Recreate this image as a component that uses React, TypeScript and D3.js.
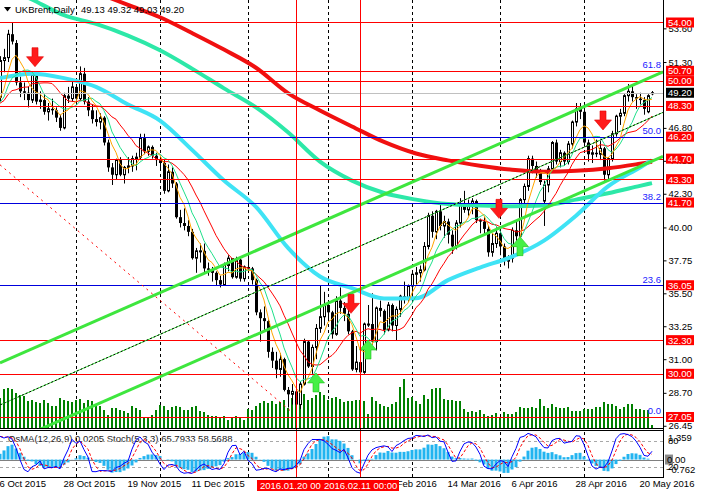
import React, { useEffect, useRef } from 'react';
import * as d3 from 'd3';

// UKBrent daily bars, 6 Oct 2015 .. 25 May 2016 (bar index 0..163)
const opens = [
  48.9, 51.4, 51.6, 53.2, 52.6, 49.9, 49.3, 49.2, 48.7, 50.4,
  48.6, 48.7, 47.9, 48.1, 48.0, 47.5, 46.8, 49.0, 48.8, 49.6,
  48.8, 50.5, 48.6, 48.0, 47.4, 47.2, 47.5, 45.8, 44.1, 43.6,
  44.6, 43.6, 44.1, 44.2, 44.7, 44.8, 46.1, 45.2, 45.5, 44.9,
  44.6, 44.4, 42.5, 43.8, 43.0, 40.7, 40.3, 40.1, 39.7, 37.9,
  38.4, 38.4, 37.2, 37.1, 36.9, 36.4, 36.1, 37.4, 37.9, 36.6,
  37.8, 36.5, 37.3, 37.2, 36.4, 34.2, 33.8, 33.6, 31.5, 30.9,
  30.3, 31.0, 28.9, 28.6, 28.8, 27.9, 29.3, 32.2, 30.5, 31.8,
  33.1, 33.9, 34.7, 34.2, 32.7, 35.0, 34.5, 34.1, 32.9, 30.3,
  30.8, 30.1, 33.4, 33.4, 32.2, 34.5, 34.3, 33.0, 34.7, 33.3,
  34.4, 35.3, 35.1, 36.0, 36.8, 36.9, 37.1, 38.7, 40.8, 39.7,
  41.1, 40.1, 40.4, 39.5, 38.7, 40.3, 41.5, 41.2, 41.5, 41.8,
  40.5, 40.4, 39.9, 38.3, 38.9, 39.6, 38.7, 37.7, 37.9, 39.8,
  39.4, 41.9, 42.8, 44.7, 44.2, 43.8, 41.8, 42.9, 44.0, 45.8,
  44.5, 45.1, 44.5, 45.7, 47.2, 48.1, 47.9, 45.8, 45.0, 45.1,
  45.0, 45.4, 43.6, 44.7, 46.4, 47.6, 47.8, 49.0, 49.3, 48.9,
  48.8, 48.7, 47.9, 49.13,
];
const highs = [
  51.7, 52.2, 53.5, 54.0, 52.8, 50.3, 49.9, 49.6, 50.6, 50.5,
  49.3, 49.1, 48.5, 48.8, 48.2, 47.7, 49.2, 49.6, 50.1, 49.8,
  51.0, 50.9, 48.9, 48.4, 48.0, 47.8, 47.6, 46.0, 44.4, 44.7,
  44.8, 44.2, 44.8, 44.9, 45.1, 46.4, 46.4, 45.6, 45.6, 45.1,
  44.9, 44.6, 44.3, 44.1, 43.1, 41.2, 41.3, 40.5, 39.9, 38.6,
  38.9, 38.9, 37.6, 37.3, 37.0, 36.7, 37.6, 38.1, 37.9, 38.0,
  37.9, 37.4, 39.3, 37.3, 36.5, 34.4, 34.6, 33.7, 31.8, 31.5,
  31.4, 31.1, 29.1, 29.3, 29.0, 29.5, 32.4, 32.3, 32.0, 33.4,
  36.0, 35.6, 35.0, 34.3, 35.3, 35.9, 34.9, 35.0, 33.0, 31.9,
  31.2, 33.5, 34.7, 35.5, 34.6, 35.0, 34.4, 34.9, 34.8, 34.6,
  35.4, 36.3, 36.1, 37.0, 37.3, 37.4, 39.0, 41.0, 41.1, 41.2,
  41.6, 40.8, 40.6, 39.8, 40.5, 42.0, 42.5, 41.9, 42.0, 41.9,
  40.6, 40.7, 40.1, 39.6, 40.0, 39.8, 38.9, 38.1, 40.0, 40.4,
  42.0, 43.0, 44.9, 44.9, 44.5, 44.0, 43.2, 44.2, 45.9, 46.0,
  45.3, 45.2, 45.9, 47.3, 48.5, 48.5, 48.1, 46.0, 45.6, 46.0,
  45.9, 45.5, 44.8, 46.6, 47.7, 48.1, 49.1, 49.8, 49.7, 49.1,
  49.2, 48.9, 49.1, 49.32,
];
const lows = [
  48.6, 50.6, 51.3, 52.5, 49.7, 48.9, 48.7, 48.2, 48.5, 48.4,
  48.1, 47.7, 47.3, 47.7, 47.2, 46.6, 46.7, 48.5, 48.6, 48.5,
  48.7, 48.4, 47.6, 47.1, 46.9, 46.7, 45.6, 43.8, 42.9, 43.3,
  43.5, 43.0, 43.7, 43.8, 43.9, 44.6, 45.0, 44.9, 44.7, 44.2,
  43.9, 42.3, 42.4, 42.7, 40.6, 40.0, 39.8, 39.4, 37.8, 36.9,
  37.6, 36.9, 36.7, 36.3, 36.0, 35.9, 36.0, 37.0, 36.5, 36.5,
  36.3, 36.3, 37.0, 36.1, 34.0, 32.2, 33.0, 31.1, 30.4, 29.7,
  29.8, 28.8, 27.7, 27.9, 27.05, 27.6, 29.2, 30.4, 30.0, 31.0,
  32.8, 33.3, 33.6, 32.4, 32.6, 34.1, 33.6, 32.7, 30.2, 30.1,
  30.0, 30.0, 33.2, 32.0, 31.6, 33.9, 32.7, 32.9, 32.9, 32.3,
  33.9, 34.8, 34.9, 35.1, 36.1, 36.3, 37.0, 38.5, 39.3, 39.2,
  39.8, 39.3, 38.9, 38.2, 38.5, 40.0, 41.0, 40.8, 40.9, 40.3,
  39.6, 39.5, 38.0, 38.0, 38.6, 38.1, 37.4, 37.2, 37.6, 39.1,
  39.2, 41.6, 42.5, 43.7, 43.4, 42.9, 40.1, 42.4, 43.8, 44.3,
  44.1, 44.2, 44.3, 45.4, 46.9, 47.4, 45.6, 44.5, 44.4, 44.8,
  44.6, 43.2, 43.3, 44.5, 46.2, 47.0, 47.6, 48.6, 48.6, 48.1,
  48.4, 47.7, 47.8, 49.03,
];
const closes = [
  51.4, 51.6, 53.2, 52.7, 49.9, 49.3, 49.2, 48.7, 50.4, 48.6,
  48.7, 47.9, 48.1, 48.0, 47.5, 46.8, 49.0, 48.8, 49.6, 48.8,
  50.5, 48.6, 48.0, 47.4, 47.2, 47.5, 45.8, 44.1, 43.6, 44.6,
  43.6, 44.1, 44.2, 44.7, 44.8, 46.1, 45.2, 45.5, 44.9, 44.6,
  44.4, 42.5, 43.8, 43.0, 40.7, 40.3, 40.1, 39.7, 37.9, 38.4,
  38.4, 37.2, 37.1, 36.9, 36.4, 36.1, 37.4, 37.9, 36.6, 37.8,
  36.5, 37.3, 37.2, 36.4, 34.2, 33.8, 33.6, 31.5, 30.9, 30.3,
  31.0, 28.9, 28.6, 28.8, 27.9, 29.3, 32.2, 30.5, 31.8, 33.1,
  33.9, 34.7, 34.2, 32.7, 35.0, 34.5, 34.1, 32.9, 30.3, 30.8,
  30.1, 33.4, 33.4, 32.2, 34.5, 34.3, 33.0, 34.7, 33.3, 34.4,
  35.3, 35.1, 36.0, 36.8, 36.9, 37.1, 38.7, 40.8, 39.7, 41.1,
  40.1, 40.4, 39.5, 38.7, 40.3, 41.5, 41.2, 41.5, 41.8, 40.5,
  40.4, 39.9, 38.3, 38.9, 39.6, 38.7, 37.7, 37.9, 39.8, 39.4,
  41.9, 42.8, 44.7, 44.2, 43.8, 43.1, 42.9, 44.0, 45.8, 44.5,
  45.1, 44.5, 45.7, 47.2, 48.1, 47.9, 45.8, 45.0, 45.1, 45.0,
  45.4, 43.6, 44.7, 46.4, 47.6, 47.8, 49.0, 49.3, 48.9, 48.8,
  48.7, 48.1, 49.0, 49.20,
];
// tick volume, thousands
const volumes = [
  30, 39, 40, 39, 35, 33, 32, 27, 28, 26,
  25, 28, 25, 22, 22, 30, 28, 27, 26, 28,
  29, 25, 28, 27, 24, 22, 18, 13, 20, 20,
  18, 17, 15, 22, 20, 18, 11, 10, 13, 18,
  23, 22, 18, 21, 22, 21, 18, 18, 21, 22,
  17, 16, 13, 12, 12, 11, 12, 8, 10, 12,
  11, 8, 19, 18, 22, 25, 27, 25, 27, 24,
  26, 28, 20, 30, 36, 38, 34, 28, 30, 33,
  36, 33, 28, 30, 31, 29, 26, 27, 27, 28,
  28, 27, 14, 31, 27, 24, 22, 21, 24, 26,
  41, 49, 30, 31, 27, 24, 33, 29, 39, 40,
  40, 29, 28, 28, 27, 27, 19, 16, 17, 16,
  18, 14, 12, 13, 15, 11, 16, 14, 14, 16,
  21, 20, 20, 21, 20, 29, 22, 20, 24, 21,
  20, 20, 21, 17, 17, 17, 19, 19, 19, 21,
  21, 26, 24, 24, 22, 19, 21, 24, 24, 19,
  19, 18, 18, 3,
];
// closes before the first visible bar, only to warm up the indicators
const priorCloses = [
  49.56, 50.5, 50.68, 49.61, 47.63, 49.52, 47.58, 48.89, 48.14, 46.37,
  47.75, 49.75, 49.08, 47.47, 48.92, 49.08, 47.75, 48.2, 48.6, 47.34,
  48.23, 48.37, 47.69, 48.13, 48.54,
];

// long moving averages at these bars
const maIdx = [0, 8, 16, 24, 32, 40, 48, 56, 64, 72, 80, 88, 96, 104, 112, 120, 128, 136, 144, 152, 160, 163];
const maCyan = [50.2, 50.5, 50.2, 49.6, 48.4, 47.3, 45.3, 43.2, 41.4, 38.6, 36.65, 35.85, 35.15, 35.16, 36.4, 37.26, 38.0, 39.1, 40.8, 42.8, 44.1, 44.6];
const maAqua = [56.6, 55.57, 54.5, 53.9, 53.1, 52.1, 50.85, 49.5, 48.2, 46.5, 44.5, 43.2, 42.35, 41.9, 41.6, 41.5, 41.45, 41.5, 41.9, 42.33, 42.84, 43.03];
const maRed = [58.5, 57.7, 56.88, 56.05, 55.2, 54.36, 53.28, 52.15, 50.91, 49.18, 47.99, 46.9, 45.84, 45.05, 44.58, 44.22, 43.94, 43.81, 43.87, 44.04, 44.35, 44.48];

const monthStarts = [19, 40, 62, 82, 103, 125, 146];
const markedBars = [74, 90];
const markedLabels = ['2016.01.20 00', '2016.02.11 00:00'];
const dateTicks = [0, 16, 32, 48, 96, 112, 128, 144, 160];
const dateLabels = ['6 Oct 2015', '28 Oct 2015', '19 Nov 2015', '11 Dec 2015',
  '19 Feb 2016', '14 Mar 2016', '6 Apr 2016', '28 Apr 2016', '20 May 2016'];
const priceTicks = [53.6, 51.3, 46.8, 44.55, 42.3, 40.0, 37.75, 35.5, 33.25, 31.0, 28.7, 26.45];
const levelPrices = [54.0, 50.7, 50.0, 48.3, 46.2, 44.7, 43.3, 41.7, 36.05, 32.3, 30.0, 27.05];
const redLines = [54.0, 50.7, 50.0, 48.3, 44.7, 43.3, 32.3, 30.0, 27.05];
const fibPrices = [50.7, 46.2, 41.7, 36.05, 27.05];
const fibLabels = ['61.8', '50.0', '38.2', '23.6', '0.0'];
const channelIdx = [0, 165.75];
const channelTop = [30.74, 50.62];
const channelMid = [27.87, 47.86];
const channelLow = [25.01, 44.85];
const diagIdx = [0, 73];
const diagPrice = [44.28, 27.38];
const downArrows: [number, number][] = [[9, 50.98], [88, 34.13], [125, 40.62], [151, 46.66]];
const upArrows: [number, number][] = [[79, 30.06], [92, 32.31], [130, 39.37]];
const lastPrice = 49.2;
const osmaRange = [-0.762, 1.359];
const stochLevels = [80, 20];

export default function App() {
  const svgRef = useRef<SVGSVGElement>(null);

  useEffect(() => {
    if (!svgRef.current) return;
    document.body.style.margin = '0';
    const svg = d3.select(svgRef.current);
    svg.selectAll('*').remove();

    const font = '"Liberation Sans", Arial, sans-serif';
    const right = 663;
    const mainBottom = 428;
    const oscTop = 431;
    const oscBottom = 477;

    const x = d3.scaleLinear().domain([0, 165.75]).range([0, right]);
    const y = d3.scaleLinear().domain([26.298, 55.537]).range([mainBottom, 0]);
    const yVol = d3.scaleLinear().domain([0, 100]).range([mainBottom, mainBottom - 100]);
    const yOsma = d3.scaleLinear().domain(osmaRange).range([475, 432]);
    const yStoch = d3.scaleLinear().domain([0, 100]).range([475.5, 432.2]);
    const px = (i: number) => Math.round(x(i)) + 0.5;
    const py = (p: number) => Math.round(y(p)) + 0.5;

    svg.append('rect').attr('width', 702).attr('height', 496).attr('fill', '#fff');

    const defs = svg.append('defs');
    defs.append('clipPath').attr('id', 'main-clip')
      .append('rect').attr('width', right).attr('height', mainBottom);
    defs.append('clipPath').attr('id', 'osc-clip')
      .append('rect').attr('y', oscTop).attr('width', right).attr('height', oscBottom - oscTop);

    // month separators
    svg.append('g').selectAll('line').data(monthStarts).join('line')
      .attr('x1', d => px(d)).attr('x2', d => px(d))
      .attr('y1', 0).attr('y2', oscBottom)
      .attr('stroke', '#000').attr('stroke-dasharray', '3,3');

    const main = svg.append('g').attr('clip-path', 'url(#main-clip)');

    // volumes
    main.append('g').selectAll('rect').data(volumes).join('rect')
      .attr('x', (_, i) => Math.round(x(i)) - 1)
      .attr('y', d => yVol(d))
      .attr('width', 2)
      .attr('height', d => mainBottom - yVol(d))
      .attr('fill', '#008000');

    // candles
    const bars = main.append('g').selectAll('g').data(closes).join('g');
    bars.append('line')
      .attr('x1', (_, i) => px(i)).attr('x2', (_, i) => px(i))
      .attr('y1', (_, i) => y(highs[i])).attr('y2', (_, i) => y(lows[i]))
      .attr('stroke', '#000');
    bars.append('rect')
      .attr('x', (c, i) => c >= opens[i] ? px(i) - 1 : px(i) - 1.5)
      .attr('y', (c, i) => y(Math.max(c, opens[i])))
      .attr('width', (c, i) => c >= opens[i] ? 2 : 3)
      .attr('height', (c, i) => Math.max(Math.abs(y(c) - y(opens[i])), 1))
      .attr('fill', (c, i) => c >= opens[i] ? '#fff' : '#000')
      .attr('stroke', (c, i) => c >= opens[i] ? '#000' : 'none');

    // long moving averages
    const maLine = d3.line<number>()
      .x((_, k) => x(maIdx[k]))
      .y(d => y(d))
      .curve(d3.curveMonotoneX);
    [[maAqua, '#2de8a8'], [maRed, '#f01010'], [maCyan, '#3fe3f5']].forEach(([vals, color]) => {
      main.append('path')
        .datum(vals as number[])
        .attr('fill', 'none')
        .attr('stroke', color as string)
        .attr('stroke-width', 4)
        .attr('stroke-linejoin', 'round')
        .attr('d', maLine);
    });

    // short moving averages
    const P = priorCloses.length;
    const allCloses = [...priorCloses, ...closes];
    const sma = (n: number) => closes.map((_, i) => d3.mean(allCloses.slice(i + P - n + 1, i + P + 1))!);
    const shortLine = d3.line<number>().x((_, i) => x(i)).y(d => y(d));
    [[14, '#ff0000'], [8, '#1fe08a'], [5, '#ffa500']].forEach(([n, color]) => {
      main.append('path')
        .datum(sma(n as number))
        .attr('fill', 'none')
        .attr('stroke', color as string)
        .attr('stroke-width', 1)
        .attr('d', shortLine);
    });

    // horizontal levels
    main.append('line')
      .attr('x1', 0).attr('x2', right)
      .attr('y1', py(lastPrice)).attr('y2', py(lastPrice))
      .attr('stroke', '#c0c0c0');
    main.append('g').selectAll('line').data(fibPrices).join('line')
      .attr('x1', 0).attr('x2', right)
      .attr('y1', d => py(d)).attr('y2', d => py(d))
      .attr('stroke', '#0000dd');
    main.append('g').selectAll('line').data(redLines).join('line')
      .attr('x1', 0).attr('x2', right)
      .attr('y1', d => py(d)).attr('y2', d => py(d))
      .attr('stroke', '#ff0000');
    main.append('g').selectAll('text').data(fibPrices).join('text')
      .attr('x', 661).attr('y', d => y(d) - 2.5)
      .attr('text-anchor', 'end')
      .attr('font-family', font).attr('font-size', 9.5)
      .attr('fill', '#2020ff')
      .text((_, k) => fibLabels[k]);

    // channel
    const twoPoint = (prices: number[]) => d3.line<number>()
      .x((_, k) => x(channelIdx[k]))
      .y(d => y(d))(prices);
    [channelTop, channelLow].forEach(ch => {
      main.append('path').attr('d', twoPoint(ch))
        .attr('stroke', '#3ee63e').attr('stroke-width', 3).attr('fill', 'none');
    });
    main.append('path').attr('d', twoPoint(channelMid))
      .attr('stroke', '#3ee63e').attr('stroke-width', 1).attr('fill', 'none');
    main.append('path').attr('d', twoPoint(channelMid))
      .attr('stroke', '#000').attr('stroke-width', 1)
      .attr('stroke-dasharray', '2,2').attr('fill', 'none');

    // descending dotted trend line
    main.append('path')
      .attr('d', d3.line<number>().x((_, k) => x(diagIdx[k])).y(d => y(d))(diagPrice))
      .attr('stroke', '#ff0000').attr('stroke-dasharray', '2,4').attr('fill', 'none');

    // signal arrows
    const downShape = 'M-3,-19 L3,-19 L3,-10 L8.5,-10 L0,0 L-8.5,-10 L-3,-10 Z';
    const upShape = 'M-3,19 L3,19 L3,10 L8.5,10 L0,0 L-8.5,10 L-3,10 Z';
    main.append('g').selectAll('path').data(downArrows).join('path')
      .attr('transform', d => `translate(${x(d[0]) - 1},${y(d[1])})`)
      .attr('d', downShape)
      .attr('fill', '#ff1a1a').attr('stroke', '#e00000').attr('stroke-width', 0.6);
    main.append('g').selectAll('path').data(upArrows).join('path')
      .attr('transform', d => `translate(${x(d[0])},${y(d[1])})`)
      .attr('d', upShape)
      .attr('fill', '#46f046').attr('stroke', '#1fbf1f').attr('stroke-width', 0.6);

    // ----- oscillator window -----
    const osc = svg.append('g').attr('clip-path', 'url(#osc-clip)');
    osc.append('text')
      .attr('x', 8).attr('y', 442)
      .attr('font-family', font).attr('font-size', 9.5).attr('fill', '#222')
      .text('OsMA(12,26,9) 0.0205  Stoch(5,3,3) 65.7933 58.5688');

    const emaOf = (n: number) => {
      const k = 2 / (n + 1);
      let e = allCloses[0];
      return allCloses.map((c, j) => (e = j === 0 ? c : c * k + e * (1 - k)));
    };
    const ema12 = emaOf(12);
    const ema26 = emaOf(26);
    const macd = allCloses.map((_, j) => ema12[j] - ema26[j]);
    const macdSignal = macd.map((_, j) => d3.mean(macd.slice(Math.max(0, j - 8), j + 1))!);
    const osma = closes.map((_, i) => macd[i + P] - macdSignal[i + P]);

    osc.append('line')
      .attr('x1', 0).attr('x2', right)
      .attr('y1', Math.round(yOsma(0)) + 0.5).attr('y2', Math.round(yOsma(0)) + 0.5)
      .attr('stroke', '#808080');
    osc.append('g').selectAll('line').data(stochLevels).join('line')
      .attr('x1', 0).attr('x2', right)
      .attr('y1', d => Math.round(yStoch(d)) + 0.5).attr('y2', d => Math.round(yStoch(d)) + 0.5)
      .attr('stroke', '#a8a8a8').attr('stroke-dasharray', '3,3');

    osc.append('g').selectAll('rect').data(osma).join('rect')
      .attr('x', (_, i) => x(i) - 1.5)
      .attr('y', d => Math.min(yOsma(d), yOsma(0)))
      .attr('width', 3)
      .attr('height', d => Math.abs(yOsma(d) - yOsma(0)))
      .attr('fill', '#22b4f0');

    const ll = closes.map((_, i) => d3.min(lows.slice(Math.max(0, i - 4), i + 1))!);
    const hh = closes.map((_, i) => d3.max(highs.slice(Math.max(0, i - 4), i + 1))!);
    const stochMain = closes.map((_, i) => {
      let num = 0;
      let den = 0;
      for (let j = Math.max(0, i - 2); j <= i; j++) {
        num += closes[j] - ll[j];
        den += hh[j] - ll[j];
      }
      return den ? (100 * num) / den : 50;
    });
    const stochSignal = stochMain.map((_, i) => d3.mean(stochMain.slice(Math.max(0, i - 2), i + 1))!);
    const stochLine = d3.line<number>().x((_, i) => x(i)).y(d => yStoch(d));
    osc.append('path').datum(stochSignal)
      .attr('fill', 'none').attr('stroke', '#ff0000').attr('stroke-dasharray', '3,2')
      .attr('d', stochLine);
    osc.append('path').datum(stochMain)
      .attr('fill', 'none').attr('stroke', '#0000ff')
      .attr('d', stochLine);

    // vertical markers
    svg.append('g').selectAll('line').data(markedBars).join('line')
      .attr('x1', d => px(d)).attr('x2', d => px(d))
      .attr('y1', 0).attr('y2', oscBottom)
      .attr('stroke', '#ff0000');

    // frames
    const frame = svg.append('g').attr('stroke', '#000').attr('fill', 'none');
    frame.append('line').attr('x1', 0).attr('x2', right + 0.5).attr('y1', mainBottom + 0.5).attr('y2', mainBottom + 0.5);
    frame.append('line').attr('x1', 0).attr('x2', right + 0.5).attr('y1', oscTop - 0.5).attr('y2', oscTop - 0.5);
    frame.append('line').attr('x1', 0).attr('x2', right + 0.5).attr('y1', oscBottom + 0.5).attr('y2', oscBottom + 0.5);
    frame.append('line').attr('x1', right + 0.5).attr('x2', right + 0.5).attr('y1', 0).attr('y2', oscBottom + 1);

    // price axis
    const axisG = svg.append('g').attr('transform', `translate(${right + 0.5},0)`)
      .call(d3.axisRight(y).tickValues(priceTicks).tickFormat(d3.format('.2f')).tickSize(3).tickPadding(2));
    axisG.select('.domain').remove();
    axisG.selectAll('text').attr('font-family', font).attr('font-size', 9.5).attr('fill', '#000');
    axisG.selectAll('line').attr('stroke', '#000');

    const boxes = svg.append('g').attr('font-family', font).attr('font-size', 9.5);
    const labelled = [...levelPrices.map(p => ({ p, color: '#ff0000' })), { p: lastPrice, color: '#000' }];
    boxes.selectAll('rect').data(labelled).join('rect')
      .attr('x', 666).attr('y', d => y(d.p) - 5)
      .attr('width', 28).attr('height', 10)
      .attr('fill', d => d.color);
    boxes.selectAll('text').data(labelled).join('text')
      .attr('x', 668).attr('y', d => y(d.p) + 3.4)
      .attr('fill', '#fff')
      .text(d => d.p.toFixed(2));

    // oscillator scale labels
    const oscLabels = svg.append('g').attr('font-family', font).attr('font-size', 9.5).attr('fill', '#000');
    oscLabels.append('rect').attr('x', 665).attr('y', yOsma(0) - 5).attr('width', 8).attr('height', 10).attr('fill', '#8a8a8a');
    oscLabels.append('text').attr('x', 668).attr('y', 441).text(d3.format('.3f')(osmaRange[1]));
    oscLabels.append('text').attr('x', 668).attr('y', yStoch(stochLevels[0]) + 3.4).text(stochLevels[0]);
    oscLabels.append('text').attr('x', 667).attr('y', yOsma(0) + 3.4).text('0.00');
    oscLabels.append('text').attr('x', 668).attr('y', yStoch(stochLevels[1]) + 3.4).text(stochLevels[1]);
    oscLabels.append('text').attr('x', 666).attr('y', 472.5).text(d3.format('.3f')(osmaRange[0]));

    // time axis
    const timeG = svg.append('g').attr('transform', `translate(0,${oscBottom + 1})`)
      .call(d3.axisBottom(x).tickValues(dateTicks)
        .tickFormat((_, k) => dateLabels[k]).tickSize(0).tickPadding(2));
    timeG.select('.domain').remove();
    timeG.selectAll('text')
      .attr('text-anchor', 'start').attr('x', -1).attr('dy', '0.71em')
      .attr('font-family', font).attr('font-size', 9.5).attr('fill', '#000');

    const marks = svg.append('g').attr('font-family', font).attr('font-size', 9.5);
    markedBars.forEach((b, k) => {
      marks.append('rect')
        .attr('x', x(b) - 39).attr('y', 480)
        .attr('width', 78).attr('height', 11)
        .attr('fill', '#ff0000');
      marks.append('text')
        .attr('x', x(b) - 36).attr('y', 488.5)
        .attr('fill', '#fff')
        .text(markedLabels[k]);
    });

    // window caption
    svg.append('path').attr('d', 'M4,7 L11,7 L7.5,11.5 Z').attr('fill', '#000');
    svg.append('text')
      .attr('x', 15).attr('y', 12.5)
      .attr('font-family', font).attr('font-size', 9.5).attr('fill', '#000')
      .text('UKBrent,Daily');
    svg.append('text')
      .attr('x', 81).attr('y', 12.5)
      .attr('font-family', font).attr('font-size', 9.5).attr('fill', '#000')
      .text(`${opens[163]} ${highs[163]} ${lows[163]} ${closes[163].toFixed(2)}`);
  }, []);

  return <svg ref={svgRef} width={702} height={496} style={{ display: 'block' }} />;
}
